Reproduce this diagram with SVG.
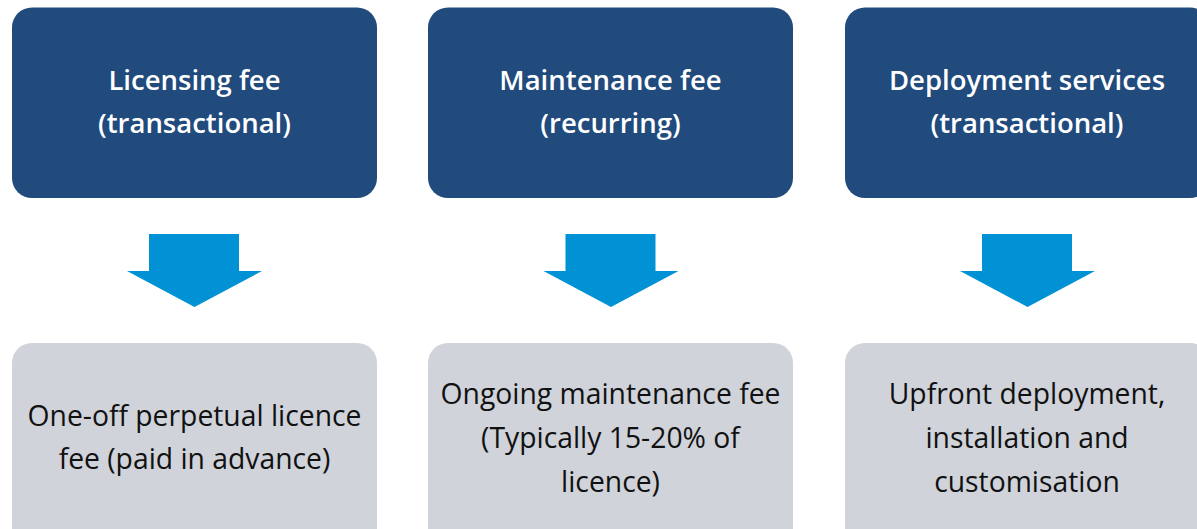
<svg xmlns="http://www.w3.org/2000/svg" width="1197" height="529" viewBox="0 0 1197 529">
  <style>
    .head { fill: #214A7D; }
    .detail { fill: #D0D3DA; }
    .arrow { fill: #0092D5; }
    .head-text { font-family: "Open Sans", "Noto Sans", sans-serif; font-size: 27.5px; font-weight: 600; fill: #FFFFFF; text-anchor: middle; }
    .detail-text { font-family: "Open Sans", "Noto Sans", sans-serif; font-size: 28.3px; font-weight: 400; fill: #111111; text-anchor: middle; }
  </style>
  <rect width="1197" height="529" fill="#FFFFFF"/>

  <!-- Column 1 -->
  <g id="licensing-fee">
    <rect class="head" x="12" y="7.5" width="365" height="190.5" rx="20"/>
    <text class="head-text" x="194.5" y="90">Licensing fee</text>
    <text class="head-text" x="194.5" y="133">(transactional)</text>
  </g>
  <g id="licensing-detail">
    <rect class="detail" x="12" y="343" width="365" height="210" rx="20"/>
    <text class="detail-text" x="194.5" y="426">One-off perpetual licence</text>
    <text class="detail-text" x="194.5" y="469">fee (paid in advance)</text>
  </g>

  <!-- Column 2 -->
  <g id="maintenance-fee">
    <rect class="head" x="428" y="7.5" width="365" height="190.5" rx="20"/>
    <text class="head-text" x="610.5" y="90">Maintenance fee</text>
    <text class="head-text" x="610.5" y="133">(recurring)</text>
  </g>
  <g id="maintenance-detail">
    <rect class="detail" x="428" y="343" width="365" height="210" rx="20"/>
    <text class="detail-text" x="610.5" y="404">Ongoing maintenance fee</text>
    <text class="detail-text" x="610.5" y="448">(Typically 15-20% of</text>
    <text class="detail-text" x="610.5" y="492">licence)</text>
  </g>

  <!-- Column 3 -->
  <g id="deployment-services">
    <rect class="head" x="845" y="7.5" width="365" height="190.5" rx="20"/>
    <text class="head-text" x="1027" y="90">Deployment services</text>
    <text class="head-text" x="1027" y="133">(transactional)</text>
  </g>
  <g id="deployment-detail">
    <rect class="detail" x="845" y="343" width="365" height="210" rx="20"/>
    <text class="detail-text" x="1027" y="404">Upfront deployment,</text>
    <text class="detail-text" x="1027" y="448">installation and</text>
    <text class="detail-text" x="1027" y="492">customisation</text>
  </g>

  <!-- Block arrows from headers to details -->
  <g id="connectors">
    <polygon class="arrow" points="149,234 239,234 239,271 262,271 194.5,307 127,271 149,271"/>
    <polygon class="arrow" points="565.5,234 655.5,234 655.5,271 678.5,271 611,307 543.5,271 565.5,271"/>
    <polygon class="arrow" points="982,234 1072,234 1072,271 1095,271 1027.5,307 960,271 982,271"/>
  </g>
</svg>
